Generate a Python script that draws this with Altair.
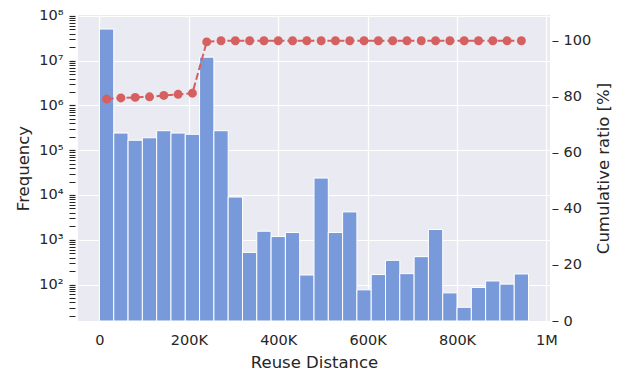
import altair as alt
import pandas as pd

# Histogram of reuse distances: 30 bins of 32K, 0 .. 960K
bin_width = 32000
n_bins = 30
frequency = [
    5.1e7, 2.42e5, 1.67e5, 1.9e5, 2.73e5, 2.42e5, 2.27e5, 1.2e7, 2.73e5, 9.0e3,
    522, 1550, 1180, 1450, 163, 2.39e4, 1450, 4190, 76, 167,
    347, 175, 419, 1694, 65, 31, 86, 120, 102, 172,
]
# Cumulative share of accesses [%] at each bin centre
cumulative = [
    79.2, 79.6, 79.8, 80.0, 80.5, 80.9, 81.3, 99.6, 100, 100,
    100, 100, 100, 100, 100, 100, 100, 100, 100, 100,
    100, 100, 100, 100, 100, 100, 100, 100, 100, 100,
]
x_ticks = [0, 200000, 400000, 600000, 800000, 1000000]
ratio_ticks = [0, 20, 40, 60, 80, 100]

bin_start = [i * bin_width for i in range(n_bins)]
df = pd.DataFrame({
    "start": bin_start,
    "end": [s + bin_width for s in bin_start],
    "center": [s + bin_width / 2 for s in bin_start],
    "freq": frequency,
    "cum": cumulative,
    # bars rise from the bottom of the log axis (clamped)
    "base": [1] * n_bins,
})

# log-axis tick positions: 1..9 x 10^k
log_ticks = [m * 10 ** k for k in range(1, 8) for m in range(1, 10)] + [10 ** 8]
log_ticks = [v for v in log_ticks if v >= 16]

is_decade = "abs(log(datum.value)/LN10 - round(log(datum.value)/LN10)) < 0.001"
sup = "['\u2070','\u00b9','\u00b2','\u00b3','\u2074','\u2075','\u2076','\u2077','\u2078','\u2079']"

TEXT = "#262626"
BLUE = "#799ADA"
RED = "#D65F5F"

x_scale = alt.Scale(domain=[-48000, 1008000], nice=False, zero=False)

x_axis = alt.Axis(
    values=x_ticks,
    labelExpr="datum.value == 0 ? '0' : (datum.value >= 1000000 ? '1M' : (datum.value / 1000) + 'K')",
    title="Reuse Distance",
    tickSize=0,
    labelPadding=12,
    titlePadding=8,
    grid=True,
    domain=False,
)

bars = alt.Chart(df).mark_bar(
    color=BLUE, stroke="white", strokeWidth=1
).encode(
    x=alt.X("start:Q", scale=x_scale, axis=x_axis),
    x2="end:Q",
    y=alt.Y(
        "freq:Q",
        scale=alt.Scale(type="log", domain=[15.3, 1.05e8], nice=False, clamp=True),
        axis=alt.Axis(
            values=log_ticks,
            labelExpr=f"{is_decade} ? '10' + {sup}[round(log(datum.value)/LN10)] : ''",
            labelOverlap=False,
            title="Frequency",
            tickSize=6,
            offset=3,
            labelPadding=6,
            titlePadding=7,
            gridOpacity={"condition": {"test": is_decade, "value": 1}, "value": 0},
            tickWidth={"condition": {"test": is_decade, "value": 1.2}, "value": 1},
            domain=False,
        ),
    ),
    y2="base:Q",
)

ratio_scale = alt.Scale(domain=[0, 109.2], nice=False, zero=False)

line = alt.Chart(df).mark_line(
    color=RED, strokeWidth=2, strokeDash=[7, 3]
).encode(
    x=alt.X("center:Q", scale=x_scale),
    y=alt.Y(
        "cum:Q",
        scale=ratio_scale,
        axis=alt.Axis(
            orient="right",
            values=ratio_ticks,
            title="Cumulative ratio [%]",
            titleAngle=270,
            titleBaseline="top",
            grid=False,
            tickSize=6,
            offset=2,
            labelPadding=5,
            titlePadding=5,
            domain=False,
        ),
    ),
)

points = alt.Chart(df).mark_circle(color=RED, size=80, opacity=1).encode(
    x=alt.X("center:Q", scale=x_scale),
    y=alt.Y("cum:Q", scale=ratio_scale),
)

chart = alt.layer(bars, alt.layer(line, points)).resolve_scale(
    y="independent"
).properties(
    width=472,
    height=306,
    autosize=alt.AutoSizeParams(type="none"),
    padding={"left": 78, "top": 15, "right": 77, "bottom": 55},
).configure(
    font="DejaVu Sans",
    background="white",
).configure_view(
    fill="#EAEAF2", stroke=None
).configure_axis(
    labelFont="DejaVu Sans",
    titleFont="DejaVu Sans",
    labelFontSize=14.5,
    titleFontSize=16.5,
    titleFontWeight="normal",
    labelColor=TEXT,
    titleColor=TEXT,
    tickColor=TEXT,
    gridColor="white",
    gridWidth=1.2,
)

chart.save("out.html", embed_options={"renderer": "svg", "actions": False})
